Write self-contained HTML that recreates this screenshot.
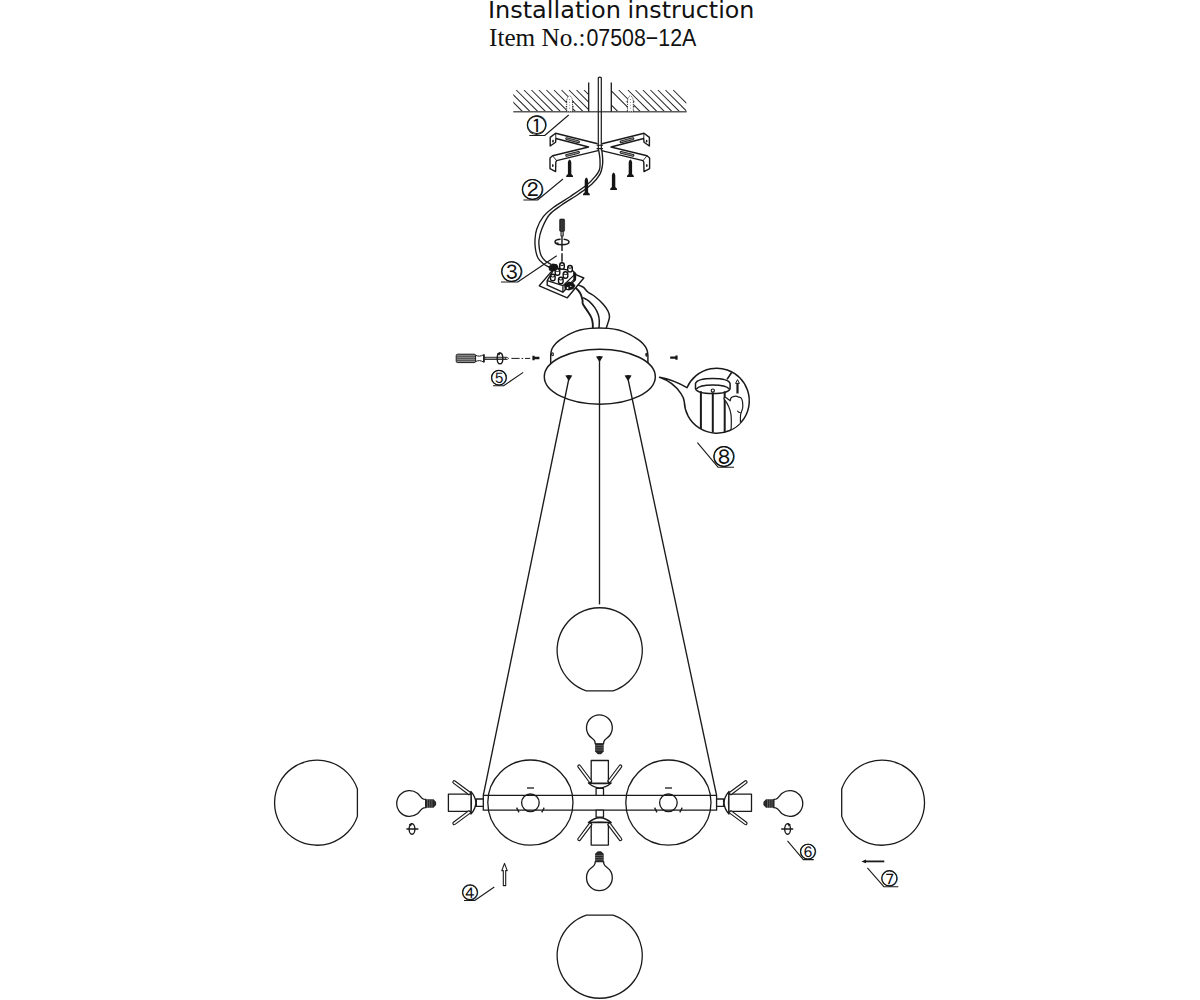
<!DOCTYPE html>
<html lang="en">
<head>
<meta charset="utf-8">
<title>Installation instruction</title>
<style>
html,body{margin:0;padding:0;background:#fff;}
body{width:1200px;height:1000px;overflow:hidden;position:relative;}
svg{position:absolute;left:0;top:0;display:block;}
.t1{font-family:"DejaVu Sans","Liberation Sans",sans-serif;font-size:22.7px;fill:#111;}
.t2{font-family:"Liberation Serif",serif;font-size:25.5px;fill:#111;}
.t3{font-family:"Liberation Sans",sans-serif;font-size:23.6px;fill:#111;}
.n{font-family:"Liberation Sans","IPAGothic",sans-serif;fill:#111;}
.l{fill:none;stroke:#1a1a1a;stroke-width:1.3;stroke-linecap:butt;stroke-linejoin:round;}
.lt{fill:none;stroke:#222;stroke-width:0.9;}
.w{fill:#fff;stroke:#1a1a1a;stroke-width:1.3;stroke-linejoin:round;}
.k{fill:#151515;stroke:none;}
</style>
</head>
<body>
<svg width="1200" height="1000" viewBox="0 0 1200 1000">
<rect x="0" y="0" width="1200" height="1000" fill="#fff"/>

<!-- ===== TITLE ===== -->
<g id="title">
<text class="t1" y="17.9"><tspan x="487.9" textLength="133" lengthAdjust="spacingAndGlyphs">Installation</tspan> <tspan x="627.6" textLength="126.8" lengthAdjust="spacingAndGlyphs">instruction</tspan></text>
<text class="t2" x="489" y="46.1" textLength="96.6" lengthAdjust="spacingAndGlyphs">Item No.:</text>
<text class="t3" x="586.4" y="46.1" textLength="110" lengthAdjust="spacingAndGlyphs">07508−12A</text>
</g>


<!-- ===== GLOBES ===== -->
<g id="globes" class="l">
<!-- top centre globe, flat at bottom -->
<path d="M586.4 690.8 A42.6 42.6 0 1 1 613 690.8 Z"/>
<!-- bottom centre globe, flat at top -->
<path d="M586.4 915.2 A42.6 42.6 0 1 0 613 915.2 Z"/>
<!-- far left globe, flat at right -->
<path d="M357.4 789 A42.55 42.55 0 1 0 357.4 816.4 Z"/>
<!-- far right globe, flat at left -->
<path d="M841.7 789 A42.55 42.55 0 1 1 841.7 816.4 Z"/>
<!-- inner globes -->
<circle cx="530.4" cy="802.6" r="42.6"/>
<circle cx="668.4" cy="802.6" r="42.6"/>
</g>

<!-- ===== BAR ===== -->
<g id="bar" class="l">
<rect x="483.3" y="795.4" width="233.3" height="14.8"/>
<circle cx="530.4" cy="802.8" r="8.8"/>
<circle cx="668.4" cy="802.8" r="8.8"/>
<line x1="527" y1="788" x2="534" y2="788"/>
<line x1="665" y1="788" x2="672" y2="788"/>
<line x1="516.6" y1="807.6" x2="519" y2="812.4"/>
<line x1="544.2" y1="807.6" x2="541.8" y2="812.4"/>
<line x1="654.6" y1="807.6" x2="657" y2="812.4"/>
<line x1="682.2" y1="807.6" x2="679.8" y2="812.4"/>
</g>

<!-- ===== SOCKETS ===== -->
<defs>
<g id="sock">
  <rect class="w" x="-7" y="-3.7" width="7" height="7.4"/>
  <path class="w" d="M-12.4 -11.4 Q-2.6 0 -12.4 11.4 Q-11.4 0 -12.4 -11.4 Z"/>
  <rect class="w" x="-34.9" y="-8.6" width="22.6" height="17.2"/>
  <path class="w" d="M-12.4 -9.9 L-28.3 -21.7 A1.3 1.3 0 0 0 -29.9 -19.6 L-14.4 -7.9 Z" style="stroke-width:1.15"/>
  <path class="w" d="M-12.4 9.9 L-28.3 21.7 A1.3 1.3 0 0 1 -29.9 19.6 L-14.4 7.9 Z" style="stroke-width:1.15"/>
</g>
<g id="bulb">
  <path class="w" d="M-10.6 -4.2 L-12.6 -4.4 C-15.6 -5.2 -16.4 -8.4 -18.9 -10.3 A12.9 12.9 0 1 0 -18.9 10.3 C-16.4 8.4 -15.6 5.2 -12.6 4.4 L-10.6 4.2 Z"/>
  <path class="k" d="M-10.9 -4.3 L-2.8 -4.3 L-0.2 -1.6 L-0.2 1.6 L-2.8 4.3 L-10.9 4.3 Z" style="fill:#262626"/>
  <path d="M-8.8 -4.5 V4.5 M-6.6 -4.5 V4.5 M-4.4 -4.5 V4.5" style="stroke:#8a8a8a;stroke-width:0.6;fill:none"/>
</g>
<g id="rot">
  <ellipse class="l" cx="0" cy="0" rx="2.9" ry="5.3" style="stroke-width:1.4"/>
  <line class="l" x1="-5.6" y1="0" x2="6.4" y2="0" style="stroke-width:1.5"/>
  <path class="k" d="M-3.2 -4.6 L0.2 -6.2 L-1 -2.6 Z"/>
</g>
</defs>
<g id="sockets">
<use href="#sock" transform="translate(483.3,802.7)"/>
<use href="#sock" transform="translate(716.6,802.7) scale(-1,1)"/>
<use href="#sock" transform="translate(599.8,795.4) rotate(90)"/>
<use href="#sock" transform="translate(599.8,810.2) rotate(-90)"/>
</g>


<!-- ===== BULBS ===== -->
<g id="bulbs">
<use href="#bulb" transform="translate(436.3,803.5)"/>
<use href="#bulb" transform="translate(763.2,803.5) scale(-1,1)"/>
<use href="#bulb" transform="translate(599.4,754.4) rotate(90)"/>
<use href="#bulb" transform="translate(599.4,851) rotate(-90)"/>
<use href="#rot" transform="translate(412,829)"/>
<use href="#rot" transform="translate(787.6,829) scale(-1,1)"/>
</g>


<!-- ===== CANOPY ===== -->
<g id="canopy">
<!-- wires from terminal block into canopy -->
<path class="l" d="M574.6 286.6 C575.2 287.3 577.4 289.3 578.4 290.6 C579.4 291.9 580.1 292.8 580.8 294.4 C581.5 296.0 582.1 298.4 582.5 300.0 C582.9 301.6 582.1 302.4 582.9 304.2 C583.7 305.9 585.7 308.3 587.1 310.5 C588.5 312.7 590.4 315.4 591.3 317.5 C592.2 319.6 592.5 321.2 592.7 323.1 C593.0 325.0 592.8 327.7 592.8 328.6" style="stroke-width:1.9"/>
<path class="l" d="M582.7 297.6 C583.2 297.8 584.5 298.4 585.6 299.0 C586.7 299.6 587.7 299.9 589.2 301.4 C590.7 302.8 593.3 305.5 594.8 307.7 C596.3 309.9 597.5 312.5 598.3 314.7 C599.0 316.9 599.2 318.7 599.3 321.0 C599.4 323.3 599.0 327.3 599.0 328.6" style="stroke-width:1.5"/>
<path class="l" d="M576.4 284.6 C577.0 284.8 578.8 285.1 580.0 285.6 C581.2 286.1 582.3 286.3 583.6 287.4 C584.9 288.5 585.9 290.5 587.8 292.0 C589.7 293.5 592.2 294.5 594.8 296.5 C597.4 298.5 601.0 301.8 603.2 304.2 C605.4 306.6 607.1 309.1 608.1 311.2 C609.1 313.3 609.5 314.9 609.5 316.8 C609.5 318.7 608.7 320.4 608.1 322.4 C607.5 324.4 606.4 327.6 606.0 328.6" style="stroke-width:1.5"/>
<!-- dome -->
<path class="w" d="M550.7 363.6 L550.7 355 L550.7 355.0 C550.8 354.3 550.9 352.3 551.3 351.0 C551.6 349.7 552.1 348.5 552.8 347.4 C553.4 346.3 554.0 345.4 555.2 344.2 C556.4 342.9 557.5 341.6 560.0 339.9 C562.5 338.2 566.7 335.4 570.0 333.8 C573.3 332.2 576.7 330.9 580.0 330.0 C583.3 329.1 586.8 328.7 590.0 328.4 C593.2 328.1 596.2 328.0 599.3 328.0 C602.4 328.0 605.4 328.1 608.6 328.4 C611.8 328.7 615.3 329.1 618.6 330.0 C621.9 330.9 625.3 332.2 628.6 333.8 C631.9 335.4 636.1 338.2 638.6 339.9 C641.1 341.6 642.2 342.9 643.4 344.2 C644.6 345.4 645.1 346.3 645.8 347.4 C646.4 348.5 646.9 349.7 647.3 351.0 C647.6 352.3 647.8 354.3 647.9 355.0 L647.9 363.6 Z" style="stroke-width:1.45"/>
<ellipse class="l" cx="552.5" cy="354.2" rx="0.9" ry="1.5" style="stroke-width:1.1"/>
<ellipse class="l" cx="646.4" cy="354.8" rx="0.6" ry="1.4" style="stroke-width:1.1"/>
<ellipse class="w" cx="599.8" cy="376.7" rx="55.5" ry="27.5" style="stroke-width:1.45"/>
<path class="k" d="M596 356.4 Q599.5 355.6 603 356.4 L600.2 361 Q599.5 361.8 598.8 361 Z"/>
<path class="k" d="M565.3 375.4 Q568.8 374.6 572.3 375.4 L569.5 380 Q568.8 380.8 568.1 380 Z"/>
<path class="k" d="M624.6 375.4 Q628.1 374.6 631.6 375.4 L628.8 380 Q628.1 380.8 627.4 380 Z"/>
<!-- side screws -->
<path class="k" d="M532.4 355.8 L534.6 355.8 L534.6 356.8 L539.4 356.8 L539.4 359.2 L534.6 359.2 L534.6 360.2 L532.4 360.2 Z"/>
<path class="k" d="M677.6 355.4 L675.4 355.4 L675.4 356.4 L670.2 356.4 L670.2 358.8 L675.4 358.8 L675.4 359.8 L677.6 359.8 Z"/>
<!-- screwdriver -->
<rect x="456.2" y="354.2" width="19.4" height="8.4" rx="1.4" style="fill:#8c8c8c;stroke:#1a1a1a;stroke-width:1"/>
<path d="M457 356.4 H475 M457 358.4 H475 M457 360.4 H475" style="stroke:#3a3a3a;stroke-width:0.7;fill:none"/>
<path class="w" d="M475.6 355.2 C478 356.6 481 356.6 483.6 354.6 L483.6 362.2 C481 360.2 478 360.2 475.6 361.6 Z" style="stroke-width:1"/>
<rect x="483.6" y="354.4" width="1.2" height="8" class="k"/>
<rect x="484.8" y="357.2" width="21" height="2.4" style="fill:#9a9a9a;stroke:#1a1a1a;stroke-width:0.8"/>
<path class="w" d="M505.8 357.2 L507.6 357.6 L508.6 358.4 L507.6 359.2 L505.8 359.6 Z" style="stroke-width:0.8"/>
<ellipse class="l" cx="500" cy="358.4" rx="2.8" ry="5.4" style="stroke-width:1.4"/>
<path class="k" d="M497 353.6 L500.6 352 L499.6 355.4 Z"/>
<path class="l" d="M511.4 358.4 H519.6 M521.6 358.4 H523.2 M525 358.4 H530.2" style="stroke-width:1"/>
</g>


<!-- ===== SUSPENSION LINES ===== -->
<g id="susp" class="l" style="stroke-width:1.35">
<line x1="599.5" y1="360" x2="599.5" y2="604.4"/>
<line x1="568.8" y1="379" x2="483.3" y2="795.4"/>
<line x1="628" y1="379" x2="716.6" y2="795.4"/>
</g>

<!-- ===== CEILING ===== -->
<defs>
<clipPath id="cl"><path d="M513.3 89.8 H588.6 V112 H513.3 Z"/></clipPath>
<clipPath id="cr"><path d="M611.3 89.8 H686.3 V112 H611.3 Z"/></clipPath>
</defs>
<g id="ceiling">
<path clip-path="url(#cl)" class="l" style="stroke-width:1.05;stroke:#2a2a2a" d="M500.90 90.0 L522.60 111.7 M508.50 90.0 L530.20 111.7 M516.25 90.0 L537.95 111.7 M524.00 90.0 L545.70 111.7 M531.40 90.0 L553.10 111.7 M538.90 90.0 L560.60 111.7 M546.40 90.0 L568.10 111.7 M554.00 90.0 L575.70 111.7 M561.50 90.0 L583.20 111.7 M569.00 90.0 L590.70 111.7 M576.50 90.0 L598.20 111.7 M584.00 90.0 L605.70 111.7"/>
<path clip-path="url(#cr)" class="l" style="stroke-width:1.05;stroke:#2a2a2a" d="M596.25 90.0 L617.95 111.7 M610.40 90.0 L632.10 111.7 M618.75 90.0 L640.45 111.7 M627.90 90.0 L649.60 111.7 M635.40 90.0 L657.10 111.7 M642.90 90.0 L664.60 111.7 M650.40 90.0 L672.10 111.7 M657.90 90.0 L679.60 111.7 M665.40 90.0 L687.10 111.7 M673.20 90.0 L694.90 111.7"/>
<line class="l" x1="513.3" y1="111.7" x2="686.6" y2="111.7" style="stroke:#5a5a5a;stroke-width:1.4"/>
<line class="l" x1="588.7" y1="82.5" x2="588.7" y2="111.7"/>
<line class="l" x1="611.3" y1="82.5" x2="611.3" y2="111.7"/>
<!-- wall plugs -->
<path d="M566.7 111.6 L566.7 101 Q567.0 97 569.6 95.6 Q572.2 97 572.5 101 L572.5 111.6 Z" style="fill:#fff;stroke:#444;stroke-width:1;stroke-dasharray:1.2 1"/>
<path d="M569.6 99 V110.5" style="stroke:#777;stroke-width:0.9;stroke-dasharray:0.9 2;fill:none"/>
<path d="M565.8000000000001 101.6 h1.2 M572.4 101.6 h1.2 M565.8000000000001 106.6 h1.2 M572.4 106.6 h1.2 M566.0 111 h1.2 M572.2 111 h1.2" style="stroke:#222;stroke-width:1.1;fill:none"/>
<path d="M627.5 111.6 L627.5 101 Q627.8 97 630.4 95.6 Q633.0 97 633.3 101 L633.3 111.6 Z" style="fill:#fff;stroke:#444;stroke-width:1;stroke-dasharray:1.2 1"/>
<path d="M630.4 99 V110.5" style="stroke:#777;stroke-width:0.9;stroke-dasharray:0.9 2;fill:none"/>
<path d="M626.6 101.6 h1.2 M633.1999999999999 101.6 h1.2 M626.6 106.6 h1.2 M633.1999999999999 106.6 h1.2 M626.8 111 h1.2 M633.0 111 h1.2" style="stroke:#222;stroke-width:1.1;fill:none"/>
</g>

<!-- ===== BRACKET ===== -->
<g id="bracket">
<defs>
<g id="brk">
 <!-- left half of cross bracket -->
 <path class="w" d="M597.6 143.8 L555.6 133.2 L550.2 137.4 L550.2 146 L555.6 142.2 L555.9 138.5 L588.6 147 L552.6 155.8 L550 158 L550 168.6 L555.6 171.6 L555.8 162.2 L556.6 160.6 L598 150.6" style="stroke-width:1.4"/>
 <path class="l" d="M555.6 133.2 L555.9 138.5" style="stroke-width:0.9"/>
 <path class="l" d="M552.6 155.8 L556.6 160.6" style="stroke-width:0.9"/>
 <ellipse cx="553" cy="141.2" rx="0.8" ry="1.4" class="k"/>
 <ellipse cx="552.8" cy="165.4" rx="0.8" ry="1.5" class="k"/>
 <path d="M566.6 138.6 L578.6 141.8" style="stroke:#222;stroke-width:2.8;stroke-linecap:round;fill:none"/>
 <path d="M566.8 138.65 L578.4 141.75" style="stroke:#999;stroke-width:1;stroke-linecap:round;fill:none"/>
 <path d="M566.6 155.4 L578.6 152.4" style="stroke:#222;stroke-width:2.8;stroke-linecap:round;fill:none"/>
 <path d="M566.8 155.35 L578.4 152.45" style="stroke:#999;stroke-width:1;stroke-linecap:round;fill:none"/>
</g>
<g id="scr">
 <path class="k" d="M0 -17.2 L1.1 -16.2 L1.7 -14.4 L1.7 -2.6 L3.4 -0.8 L3.4 0.5 L-3.4 0.5 L-3.4 -0.8 L-1.7 -2.6 L-1.7 -14.4 L-1.1 -16.2 Z"/>
</g>
</defs>
<use href="#brk"/>
<use href="#brk" transform="translate(1199.6,0) scale(-1,1)"/>
<!-- cable -->
<path class="l" d="M598.3 150.5 V77.8 Q599.8 76.6 601.3 77.8 V150.5" style="stroke-width:1.2"/>
<path class="l" d="M598.6 150.0 C598.8 151.0 599.4 154.3 599.6 156.0 C599.8 157.7 600.0 157.8 600.0 160.0 C600.0 162.2 600.4 166.4 599.6 169.2 C598.8 172.0 597.1 174.1 595.0 176.7 C592.9 179.3 590.9 181.7 586.7 185.0 C582.5 188.3 575.6 192.9 570.0 196.7 C564.4 200.4 557.8 204.2 553.3 207.5 C548.8 210.8 546.1 213.1 543.3 216.7 C540.5 220.3 538.1 225.3 536.7 229.2 C535.3 233.1 535.2 236.5 535.0 240.0 C534.8 243.5 535.1 247.0 535.6 250.0 C536.1 253.0 536.8 255.7 538.0 258.0 C539.2 260.3 541.1 262.0 543.0 263.6 C544.9 265.2 548.5 266.8 549.6 267.4" style="stroke-width:1.35"/>
<path class="l" d="M601.8 150.0 C601.9 151.3 602.5 155.5 602.6 158.0 C602.7 160.5 602.9 162.3 602.5 165.0 C602.1 167.7 601.8 171.0 600.0 174.2 C598.2 177.4 595.3 180.9 591.7 184.2 C588.1 187.5 583.3 190.7 578.3 194.2 C573.3 197.7 566.6 201.5 561.7 205.0 C556.9 208.5 552.5 211.0 549.2 215.0 C545.9 219.0 543.4 225.0 541.7 229.2 C540.0 233.4 539.4 236.7 539.0 240.0 C538.6 243.3 539.0 246.3 539.4 249.0 C539.8 251.7 540.4 254.0 541.4 256.0 C542.4 258.0 543.7 259.6 545.4 261.0 C547.1 262.4 550.4 264.0 551.4 264.6" style="stroke-width:1.35"/>
<path class="l" d="M596.6 145.2 H603 M596.6 148.6 H603" style="stroke-width:1.1"/>
<use href="#scr" transform="translate(569.6,176.6)"/>
<use href="#scr" transform="translate(630.4,176.6)"/>
<use href="#scr" transform="translate(586.4,194.8)"/>
<use href="#scr" transform="translate(613.6,189.6)"/>
</g>


<!-- ===== TERMINAL BLOCK ===== -->
<g id="terminal">
<!-- base plate -->
<path class="w" d="M539.3 285.8 L552.2 270.6 L576.4 274.8 L583.8 278 L567.3 297.8 Z" style="stroke-width:1.4"/>
<!-- block body -->
<path class="w" d="M547.2 280.6 L554.6 268 L572.4 270.6 L575.6 273.6 L575.4 279.6 L562.8 292.2 L547.2 285.2 Z" style="stroke-width:1.4"/>
<path class="l" d="M547.2 280.6 L563 285.6 L562.8 292.2 M563 285.6 L575.6 273.6" style="stroke-width:1.3"/>
<path class="l" d="M566.6 282.4 L572.6 276.4 M569.4 284 L574.6 278.6" style="stroke-width:1"/>
<!-- dark wire entries -->
<path class="k" d="M548.6 266.2 L552.6 263.4 L557 264.2 L558.6 267 L556.6 270.4 L552 271.6 L549 270.2 Z"/>
<path class="k" d="M564 284.4 L568.6 281.6 L573 282.4 L575.4 285.4 L573.6 289 L568.6 290.6 L564.6 289.4 Z"/>
<path class="k" d="M573 272 L575.6 273.4 L576 280 L573.6 282.4 Z"/>
<!-- terminals (cylinders) -->
<g style="fill:#fff;stroke:#111;stroke-width:1.4">
<rect x="559.7" y="262.8" width="4.6" height="6.4" rx="2.2"/><path d="M559.8 264.8 Q562.0 266.3 564.2 264.8" style="fill:none;stroke-width:1"/><rect x="567.7" y="265.5" width="4.6" height="6.4" rx="2.2"/><path d="M567.8 267.5 Q570.0 269.0 572.2 267.5" style="fill:none;stroke-width:1"/><rect x="555.2" y="268.8" width="4.6" height="6.4" rx="2.2"/><path d="M555.3 270.8 Q557.5 272.3 559.7 270.8" style="fill:none;stroke-width:1"/><rect x="563.2" y="271.8" width="4.6" height="6.4" rx="2.2"/><path d="M563.3 273.8 Q565.5 275.3 567.7 273.8" style="fill:none;stroke-width:1"/><rect x="550.5" y="274.3" width="4.6" height="6.4" rx="2.2"/><path d="M550.6 276.3 Q552.8 277.8 555.0 276.3" style="fill:none;stroke-width:1"/><rect x="558.5" y="277.3" width="4.6" height="6.4" rx="2.2"/><path d="M558.6 279.3 Q560.8 280.8 563.0 279.3" style="fill:none;stroke-width:1"/>
</g>
<circle cx="567.6" cy="288" r="0.9" style="fill:#fff"/>
<circle cx="570.8" cy="286.4" r="0.7" style="fill:#ddd"/>
<!-- small screwdriver -->
<rect x="559.6" y="219" width="5" height="12.4" rx="1" style="fill:#222;stroke:#111;stroke-width:0.6"/>
<path d="M561.2 220 V231 M563 220 V231" style="stroke:#666;stroke-width:0.5;fill:none"/>
<rect x="560.9" y="231.4" width="2.4" height="4.6" style="fill:#999;stroke:#222;stroke-width:0.8"/>
<line class="l" x1="562" y1="236" x2="562" y2="251" style="stroke-width:1.5;stroke:#222"/>
<path class="l" d="M563.6 239.2 C567 239.6 569 240.6 569 241.8 C569 243.6 565.8 244.8 562 244.8 C558.2 244.8 555 243.6 555 241.8 C555 240.4 557.4 239.4 560.6 239.2" style="stroke-width:1.5"/>
<path class="k" d="M555.4 242.4 L558.6 242.4 L558.2 245.6 Z"/>
<path class="l" d="M562 253.2 V261.8" style="stroke-width:1.5;stroke:#222"/>
</g>


<!-- ===== DETAIL BUBBLE ===== -->
<defs><clipPath id="cd"><circle cx="716.8" cy="400.8" r="32.1"/></clipPath></defs>
<g id="detail">
<path class="w" d="M687.0 387.7 C680.6 384 670.6 379.2 659.6 377.3 C668.6 380.4 676.6 387 681 393.6 C683.2 396.8 684 399 684.3 401.9 A32.5 32.5 0 1 0 687.0 387.7 Z" style="stroke-width:1.5"/>
<g clip-path="url(#cd)">
<!-- mini canopy -->
<path class="w" d="M695.5 383.4 C696.6 380 704.6 378.4 712.8 378.4 C721 378.4 729 380 730.1 383.4 L730.1 388.8 C729 392.2 721 393.6 712.8 393.6 C704.6 393.6 696.6 392.2 695.5 388.8 Z" style="stroke-width:1.5"/>
<path class="l" d="M696.4 389 C698.6 386 705.6 385 712.8 385 C720 385 727 386 729.2 389" style="stroke-width:1.4"/>
<circle class="w" cx="712.8" cy="390.6" r="1.6" style="stroke-width:1.2"/>
<line class="l" x1="700.9" y1="391.2" x2="700.9" y2="436" style="stroke-width:2"/>
<line class="l" x1="712.8" y1="392.4" x2="712.8" y2="436" style="stroke-width:2"/>
<line class="l" x1="724.7" y1="391.2" x2="724.7" y2="436" style="stroke-width:2"/>
<path class="l" d="M727 379.4 L731.8 372.2" style="stroke-width:1.6"/>
<!-- arrow up -->
<path class="w" d="M735.6 383.4 L737.5 379.6 L739.4 383.4 Z" style="stroke-width:1"/>
<line class="l" x1="737.5" y1="383.2" x2="737.5" y2="393.5" style="stroke-width:2.2"/>
<!-- hand -->
<path class="w" d="M730.6 436 C731.4 427 731.6 420 731 414.6 C730 408 727.6 403.6 724.4 399.4 C723.4 397.8 724.8 396.8 726.2 397.8 L730.2 400.8 C730.4 398.6 731.6 396.8 733.4 396.6 C735.4 395.8 737.2 396 738.4 397.2 C740 396.8 741.4 397.8 742 399.6 C742.8 402.2 743 405.2 742.6 408.2 C742.2 410.6 741 412.4 740.6 414.6 C740.2 418 740.6 422 740.4 426 L740 436" style="stroke-width:1.2"/>
<path class="l" d="M737.2 410.8 C738.2 412.2 739.6 412.8 740.8 412.8" style="stroke-width:1.1"/>
</g>
</g>

<!-- ===== LABELS ===== -->
<g id="labels">
<g class="l" style="stroke-width:1.1">
<circle cx="536.5" cy="125.3" r="9.17"/>
<circle cx="532.3" cy="189.4" r="9.97"/>
<circle cx="511.5" cy="271.6" r="9.79"/>
<circle cx="470" cy="892.2" r="7.39"/>
<circle cx="498.9" cy="377.7" r="7.34"/>
<circle cx="807.9" cy="851.6" r="7.39"/>
<circle cx="889.3" cy="878.2" r="7.57"/>
<circle cx="723.7" cy="456.5" r="9.88"/>
<path d="M529.3 135.5 H544.7 L568.7 115"/>
<path d="M523.4 200 H537.6 L563 179"/>
<path d="M501 282 H517.7 L556.7 255.7"/>
<path d="M464 900.5 H474.7 L494.3 887"/>
<path d="M493 385.7 H503.6 L523.2 372.4"/>
<path d="M813.8 859.6 H803.3 L787.5 840.9"/>
<path d="M898.3 886.7 H883.8 L867.4 867.8"/>
<path d="M734 467.2 H718 L697.4 442.6"/>
</g>
<text class="n" x="526.30" y="133.23" font-size="20.6">①</text>
<text class="n" x="521.21" y="198.02" font-size="22.4">②</text>
<text class="n" x="500.61" y="280.07" font-size="22">③</text>
<text class="n" x="461.78" y="898.59" font-size="16.6">④</text>
<text class="n" x="490.73" y="384.05" font-size="16.5">⑤</text>
<text class="n" x="799.68" y="857.99" font-size="16.6">⑥</text>
<text class="n" x="880.88" y="884.75" font-size="17">⑦</text>
<text class="n" x="712.71" y="465.05" font-size="22.2">⑧</text>
<!-- arrow 4 (up) -->
<path class="w" d="M503.3 885.6 V870.6 H501.8 L504.5 863.4 L507.2 870.6 H505.7 V885.6 Z" style="stroke-width:1.1"/>
<!-- arrow 7 (left) -->
<path class="k" d="M861.4 861.4 L866 859.6 V863.2 Z"/>
<path class="l" d="M864 861.4 H884.3" style="stroke-width:1.8"/>
</g>


</svg>
</body>
</html>
